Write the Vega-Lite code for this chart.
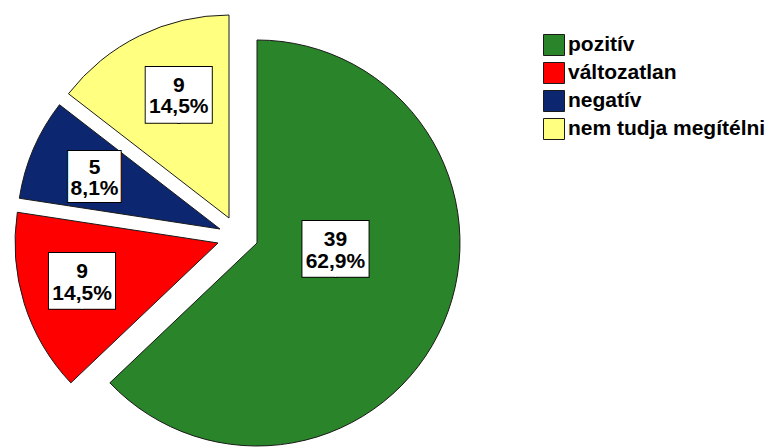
{
  "$schema": "https://vega.github.io/schema/vega-lite/v6.json",
  "width": 476,
  "height": 424,
  "autosize": {"type": "none"},
  "padding": {"left": 0, "top": 24, "right": 295, "bottom": 0},
  "background": "white",
  "data": {
    "values": [
      {"cat": "pozitív", "count": 39, "rank": 1, "label": "39\n62,9%"},
      {"cat": "változatlan", "count": 9, "rank": 2, "label": "9\n14,5%"},
      {"cat": "negatív", "count": 5, "rank": 3, "label": "5\n8,1%"},
      {"cat": "nem tudja megítélni", "count": 9, "rank": 4, "label": "9\n14,5%"}
    ]
  },
  "encoding": {
    "theta": {"field": "count", "type": "quantitative", "stack": true},
    "order": {"field": "rank", "type": "quantitative"},
    "detail": {"field": "cat", "type": "nominal"}
  },
  "layer": [
    {"mark": {"type": "arc", "radius": 203, "xOffset": 19, "yOffset": 7, "stroke": "#1a1a1a", "strokeWidth": 1},
     "encoding": {"color": {"field": "cat", "type": "nominal", "scale": {"domain": ["pozitív", "változatlan", "negatív", "nem tudja megítélni"], "range": ["#2a842a", "#ff0000", "#0c2670", "#ffff80"]}},
       "opacity": {"condition": {"test": "datum.cat === 'pozitív'", "value": 1}, "value": 0}}},
    {"mark": {"type": "arc", "radius": 203, "xOffset": -20, "yOffset": 7, "stroke": "#1a1a1a", "strokeWidth": 1},
     "encoding": {"color": {"field": "cat", "type": "nominal", "scale": {"domain": ["pozitív", "változatlan", "negatív", "nem tudja megítélni"], "range": ["#2a842a", "#ff0000", "#0c2670", "#ffff80"]}},
       "opacity": {"condition": {"test": "datum.cat === 'változatlan'", "value": 1}, "value": 0}}},
    {"mark": {"type": "arc", "radius": 203, "xOffset": -18, "yOffset": -7, "stroke": "#1a1a1a", "strokeWidth": 1},
     "encoding": {"color": {"field": "cat", "type": "nominal", "scale": {"domain": ["pozitív", "változatlan", "negatív", "nem tudja megítélni"], "range": ["#2a842a", "#ff0000", "#0c2670", "#ffff80"]}},
       "opacity": {"condition": {"test": "datum.cat === 'negatív'", "value": 1}, "value": 0}}},
    {"mark": {"type": "arc", "radius": 203, "xOffset": -9, "yOffset": -18, "stroke": "#1a1a1a", "strokeWidth": 1},
     "encoding": {"color": {"field": "cat", "type": "nominal", "scale": {"domain": ["pozitív", "változatlan", "negatív", "nem tudja megítélni"], "range": ["#2a842a", "#ff0000", "#0c2670", "#ffff80"]}},
       "opacity": {"condition": {"test": "datum.cat === 'nem tudja megítélni'", "value": 1}, "value": 0}}},

    {"mark": {"type": "text", "radius": 155, "xOffset": -45, "yOffset": -49, "dy": -1, "font": "DejaVu Sans Mono", "fontSize": 54, "fill": "black", "stroke": "black", "strokeWidth": 2, "baseline": "middle", "align": "center"},
     "encoding": {"text": {"value": "▇▇"}, "opacity": {"condition": {"test": "datum.cat === 'pozitív'", "value": 1}, "value": 0}}},
    {"mark": {"type": "text", "radius": 155, "xOffset": -45, "yOffset": -49, "dy": -1, "font": "DejaVu Sans Mono", "fontSize": 54, "fill": "white", "baseline": "middle", "align": "center"},
     "encoding": {"text": {"value": "▇▇"}, "opacity": {"condition": {"test": "datum.cat === 'pozitív'", "value": 1}, "value": 0}}},
    {"mark": {"type": "text", "radius": 155, "xOffset": -8, "yOffset": -2, "dy": -1, "font": "DejaVu Sans Mono", "fontSize": 54, "fill": "black", "stroke": "black", "strokeWidth": 2, "baseline": "middle", "align": "center"},
     "encoding": {"text": {"value": "▇▇"}, "opacity": {"condition": {"test": "datum.cat === 'változatlan'", "value": 1}, "value": 0}}},
    {"mark": {"type": "text", "radius": 155, "xOffset": -8, "yOffset": -2, "dy": -1, "font": "DejaVu Sans Mono", "fontSize": 54, "fill": "white", "baseline": "middle", "align": "center"},
     "encoding": {"text": {"value": "▇▇"}, "opacity": {"condition": {"test": "datum.cat === 'változatlan'", "value": 1}, "value": 0}}},
    {"mark": {"type": "text", "radius": 155, "xOffset": -1, "yOffset": 1, "dy": 2, "font": "DejaVu Sans Mono", "fontSize": 43, "fill": "black", "stroke": "black", "strokeWidth": 2, "baseline": "middle", "align": "center"},
     "encoding": {"text": {"value": "██"}, "opacity": {"condition": {"test": "datum.cat === 'negatív'", "value": 1}, "value": 0}}},
    {"mark": {"type": "text", "radius": 155, "xOffset": -1, "yOffset": 1, "dy": 2, "font": "DejaVu Sans Mono", "fontSize": 43, "fill": "white", "baseline": "middle", "align": "center"},
     "encoding": {"text": {"value": "██"}, "opacity": {"condition": {"test": "datum.cat === 'negatív'", "value": 1}, "value": 0}}},
    {"mark": {"type": "text", "radius": 155, "xOffset": 9, "yOffset": -3, "dy": -1, "font": "DejaVu Sans Mono", "fontSize": 54, "fill": "black", "stroke": "black", "strokeWidth": 2, "baseline": "middle", "align": "center"},
     "encoding": {"text": {"value": "▇▇"}, "opacity": {"condition": {"test": "datum.cat === 'nem tudja megítélni'", "value": 1}, "value": 0}}},
    {"mark": {"type": "text", "radius": 155, "xOffset": 9, "yOffset": -3, "dy": -1, "font": "DejaVu Sans Mono", "fontSize": 54, "fill": "white", "baseline": "middle", "align": "center"},
     "encoding": {"text": {"value": "▇▇"}, "opacity": {"condition": {"test": "datum.cat === 'nem tudja megítélni'", "value": 1}, "value": 0}}},

    {"mark": {"type": "text", "radius": 155, "xOffset": -45, "yOffset": -57, "font": "Liberation Sans", "fontSize": 21, "fontWeight": "bold", "lineHeight": 21.5, "lineBreak": "\n", "fill": "black", "baseline": "middle", "align": "center"},
     "encoding": {"text": {"field": "label", "type": "nominal"}, "opacity": {"condition": {"test": "datum.cat === 'pozitív'", "value": 1}, "value": 0}}},
    {"mark": {"type": "text", "radius": 155, "xOffset": -8, "yOffset": -10, "font": "Liberation Sans", "fontSize": 21, "fontWeight": "bold", "lineHeight": 21.5, "lineBreak": "\n", "fill": "black", "baseline": "middle", "align": "center"},
     "encoding": {"text": {"field": "label", "type": "nominal"}, "opacity": {"condition": {"test": "datum.cat === 'változatlan'", "value": 1}, "value": 0}}},
    {"mark": {"type": "text", "radius": 155, "xOffset": -1, "yOffset": -7, "font": "Liberation Sans", "fontSize": 21, "fontWeight": "bold", "lineHeight": 21.5, "lineBreak": "\n", "fill": "black", "baseline": "middle", "align": "center"},
     "encoding": {"text": {"field": "label", "type": "nominal"}, "opacity": {"condition": {"test": "datum.cat === 'negatív'", "value": 1}, "value": 0}}},
    {"mark": {"type": "text", "radius": 155, "xOffset": 9, "yOffset": -11, "font": "Liberation Sans", "fontSize": 21, "fontWeight": "bold", "lineHeight": 21.5, "lineBreak": "\n", "fill": "black", "baseline": "middle", "align": "center"},
     "encoding": {"text": {"field": "label", "type": "nominal"}, "opacity": {"condition": {"test": "datum.cat === 'nem tudja megítélni'", "value": 1}, "value": 0}}}
  ],
  "config": {
    "view": {"stroke": null},
    "legend": {
      "orient": "none", "legendX": 543, "legendY": 10, "padding": 0,
      "title": null, "symbolType": "square", "symbolSize": 441,
      "symbolStrokeColor": "#1a1a1a", "symbolStrokeWidth": 1, "symbolOpacity": 1,
      "labelFont": "Liberation Sans", "labelFontWeight": "bold", "labelFontSize": 21,
      "labelColor": "black", "labelOffset": 3, "rowPadding": 2, "labelLimit": 300
    }
  }
}
